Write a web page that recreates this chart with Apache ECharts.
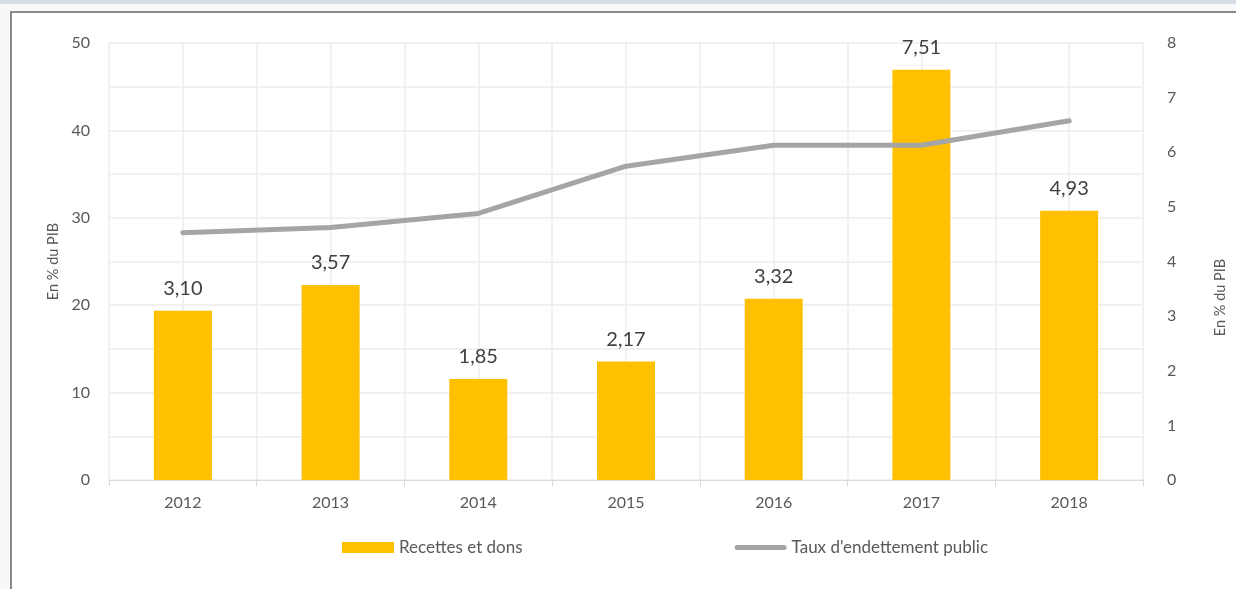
<!DOCTYPE html>
<html>
<head>
<meta charset="utf-8">
<script src="https://cdn.jsdelivr.net/npm/echarts@6/dist/echarts.min.js"></script>
<style>
  html, body { margin: 0; padding: 0; background: #ffffff; }
  #chart-root { width: 1236px; height: 589px; }
</style>
</head>
<body>
<div id="chart-root"></div>
<script>
const years = ['2012', '2013', '2014', '2015', '2016', '2017', '2018'];
const recettesDons = [3.10, 3.57, 1.85, 2.17, 3.32, 7.51, 4.93];
const tauxEndettement = [28.3, 28.9, 30.5, 35.9, 38.3, 38.3, 41.1];
const leftTicks = [0, 10, 20, 30, 40, 50];
const rightTicks = [0, 1, 2, 3, 4, 5, 6, 7, 8];

(function () {
  const root = document.getElementById('chart-root');
  const chart = echarts.init(root);
  const font = 'Lato, "Open Sans", sans-serif';
  const grey = '#595959';

  function decimalComma(v) {
    return v.toFixed(2).replace('.', ',');
  }

  chart.setOption({
    backgroundColor: '#ffffff',
    textStyle: { fontFamily: font },
    animation: false,
    graphic: [
      { type: 'rect', shape: { x: 0, y: 0, width: 1236, height: 4 }, style: { fill: '#d6dce4' } },
      { type: 'rect', shape: { x: 0, y: 4, width: 1236, height: 7 }, style: { fill: '#f6f8fa' } },
      { type: 'rect', shape: { x: 0, y: 11, width: 10, height: 578 }, style: { fill: '#f7f8f9' } },
      { type: 'line', shape: { x1: 10, y1: 12, x2: 1236, y2: 12 }, style: { stroke: '#8a8a8a', lineWidth: 2 } },
      { type: 'line', shape: { x1: 11, y1: 12, x2: 11, y2: 589 }, style: { stroke: '#8a8a8a', lineWidth: 2 } }
    ],
    grid: { left: 109, right: 86, top: 43, bottom: 109, containLabel: false },
    legend: {
      left: 342,
      top: 539,
      padding: 0,
      itemWidth: 52,
      itemHeight: 11,
      itemGap: 212,
      textStyle: { color: grey, fontSize: 17, fontFamily: font },
      data: [
        { name: 'Recettes et dons', icon: 'rect' },
        {
          name: "Taux d'endettement public",
          icon: 'path://M2.5,0 H49.5 A2.5,2.5 0 0 1 49.5,5 H2.5 A2.5,2.5 0 0 1 2.5,0 Z',
          itemStyle: { color: '#a5a5a5', borderWidth: 0 }
        }
      ]
    },
    xAxis: [
      {
        type: 'category',
        data: years,
        axisLine: { lineStyle: { color: '#d9d9d9', width: 1 } },
        axisTick: { show: true, length: 6, lineStyle: { color: '#d9d9d9' } },
        axisLabel: { color: grey, fontSize: 16, margin: 15 },
        splitLine: { show: false }
      },
      {
        type: 'value',
        min: 0,
        max: years.length * 2,
        interval: 1,
        position: 'bottom',
        axisLine: { show: false },
        axisTick: { show: false },
        axisLabel: { show: false },
        splitLine: { show: true, lineStyle: { color: '#ededed', width: 1.5 } }
      }
    ],
    yAxis: [
      {
        type: 'value',
        min: 0,
        max: 50,
        interval: 5,
        name: 'En % du PIB',
        nameLocation: 'middle',
        nameGap: 47,
        nameTextStyle: { color: grey, fontSize: 14.5 },
        axisLine: { show: false },
        axisTick: { show: false },
        axisLabel: {
          color: grey,
          fontSize: 16,
          margin: 19,
          formatter: function (v) { return leftTicks.indexOf(v) >= 0 ? String(v) : ''; }
        },
        splitLine: { show: true, lineStyle: { color: '#ededed', width: 1.5 } }
      },
      {
        type: 'value',
        min: 0,
        max: 8,
        interval: 1,
        name: 'En % du PIB',
        nameLocation: 'middle',
        nameRotate: 90,
        nameGap: 70,
        nameTextStyle: { color: grey, fontSize: 14.5, padding: [0, 72, 0, 0] },
        axisLine: { show: false },
        axisTick: { show: false },
        axisLabel: {
          color: grey,
          fontSize: 16,
          margin: 24,
          formatter: function (v) { return rightTicks.indexOf(v) >= 0 ? String(v) : ''; }
        },
        splitLine: { show: false }
      }
    ],
    series: [
      {
        name: 'Recettes et dons',
        type: 'bar',
        yAxisIndex: 1,
        barWidth: 58,
        data: recettesDons,
        itemStyle: { color: '#ffc000' },
        label: {
          show: true,
          position: 'top',
          distance: 12,
          color: '#404040',
          fontSize: 20,
          formatter: function (p) { return decimalComma(p.value); }
        }
      },
      {
        name: "Taux d'endettement public",
        type: 'line',
        yAxisIndex: 0,
        data: tauxEndettement,
        symbol: 'none',
        lineStyle: { color: '#a5a5a5', width: 5, cap: 'round', join: 'round' },
        itemStyle: { color: '#a5a5a5' }
      }
    ]
  });

  window.addEventListener('resize', function () { chart.resize(); });
}());
</script>
</body>
</html>
